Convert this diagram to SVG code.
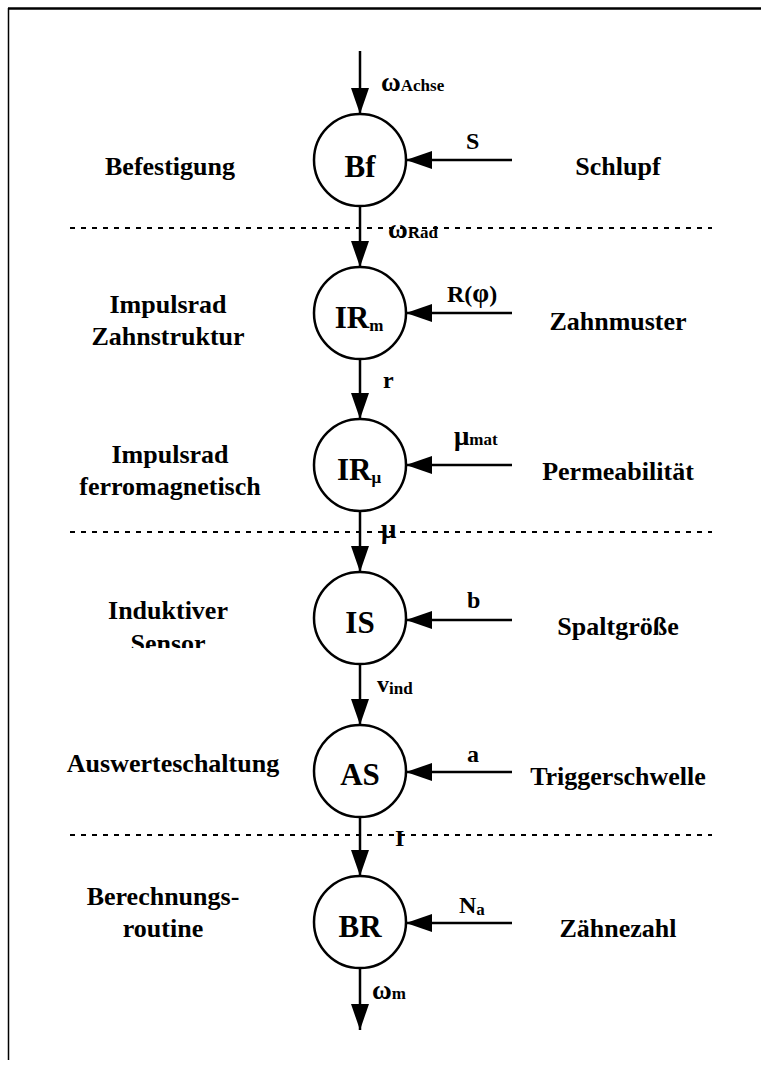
<svg xmlns="http://www.w3.org/2000/svg" width="761" height="1065" viewBox="0 0 761 1065">
  <style>
    text { font-family: 'Liberation Serif', 'DejaVu Serif', serif; font-weight: 700; fill: #000; }
    .side { font-size: 26px; text-anchor: middle; }
    .node { font-size: 31px; text-anchor: middle; }
    .sig { font-size: 24px; }
    .greek { font-size: 27px; }
    .sub { font-size: 17px; }
    .circle { fill: #fff; stroke: #000; stroke-width: 2.5; }
    .conn { stroke: #000; stroke-width: 2.5; fill: none; marker-end: url(#arrow); }
    .sep { stroke: #000; stroke-width: 2; stroke-dasharray: 5 6; }
    .frame { stroke: #000; fill: none; }
  </style>
  <defs>
    <marker id="arrow" markerUnits="userSpaceOnUse" markerWidth="26" markerHeight="18" refX="26" refY="9" orient="auto">
      <path d="M0,0 L26,9 L0,18 Z" fill="#000"/>
    </marker>
    <clipPath id="clipSensor">
      <rect x="0" y="590" width="300" height="58"/>
    </clipPath>
  </defs>

  <rect width="761" height="1065" fill="#fff"/>

  <!-- frame -->
  <line class="frame" x1="8" y1="8.5" x2="761" y2="8.5" stroke-width="2.5"/>
  <line class="frame" x1="8.5" y1="8" x2="8.5" y2="1060" stroke-width="1.5"/>

  <!-- separators -->
  <g id="separators">
    <line class="sep" x1="70" y1="228" x2="712" y2="228"/>
    <line class="sep" x1="70" y1="532" x2="712" y2="532"/>
    <line class="sep" x1="70" y1="835" x2="712" y2="835"/>
  </g>

  <g font-family="Liberation Serif, serif" font-weight="bold">
  <!-- connectors -->
  <g id="connectors">
    <line class="conn" x1="360" y1="51" x2="360" y2="114"/>
    <line class="conn" x1="360" y1="206" x2="360" y2="267"/>
    <line class="conn" x1="360" y1="359" x2="360" y2="419"/>
    <line class="conn" x1="360" y1="511" x2="360" y2="572"/>
    <line class="conn" x1="360" y1="664" x2="360" y2="725"/>
    <line class="conn" x1="360" y1="817" x2="360" y2="876"/>
    <line class="conn" x1="360" y1="968" x2="360" y2="1030"/>

    <line class="conn" x1="512" y1="160" x2="406" y2="160"/>
    <line class="conn" x1="512" y1="313" x2="406" y2="313"/>
    <line class="conn" x1="512" y1="465" x2="406" y2="465"/>
    <line class="conn" x1="512" y1="620" x2="406" y2="620"/>
    <line class="conn" x1="512" y1="772" x2="406" y2="772"/>
    <line class="conn" x1="512" y1="923" x2="406" y2="923"/>

    <!-- signal labels -->
    <text class="sig" x="381" y="91"><tspan class="greek">ω</tspan><tspan class="sub">Achse</tspan></text>
    <text class="sig" x="388" y="238"><tspan class="greek">ω</tspan><tspan class="sub">Rad</tspan></text>
    <text class="sig" x="383" y="388">r</text>
    <text class="sig" x="381" y="538"><tspan class="greek">μ</tspan></text>
    <text class="sig" x="377" y="692">v<tspan class="sub" dy="2">ind</tspan></text>
    <text class="sig" x="395" y="846">I</text>
    <text class="sig" x="372" y="999"><tspan class="greek">ω</tspan><tspan class="sub">m</tspan></text>

    <text class="sig" x="466" y="149">S</text>
    <text class="sig" x="447" y="302">R(<tspan class="greek">φ</tspan>)</text>
    <text class="sig" x="454" y="445"><tspan class="greek">μ</tspan><tspan class="sub">mat</tspan></text>
    <text class="sig" x="467" y="608">b</text>
    <text class="sig" x="467" y="762">a</text>
    <text class="sig" x="459" y="913">N<tspan class="sub" dy="2">a</tspan></text>
  </g>

  <!-- nodes -->
  <g id="node-Bf">
    <circle class="circle" cx="360" cy="160" r="46"/>
    <text class="node" x="360" y="177">Bf</text>
    <text class="side" x="170" y="175">Befestigung</text>
    <text class="side" x="618" y="175">Schlupf</text>
  </g>
  <g id="node-IRm">
    <circle class="circle" cx="360" cy="313" r="46"/>
    <text class="node" x="359" y="328">IR<tspan class="sub" font-size="20" dy="3">m</tspan></text>
    <text class="side" x="168" y="313">Impulsrad</text>
    <text class="side" x="168" y="345">Zahnstruktur</text>
    <text class="side" x="618" y="330">Zahnmuster</text>
  </g>
  <g id="node-IRmu">
    <circle class="circle" cx="360" cy="465" r="46"/>
    <text class="node" x="359" y="480">IR<tspan class="sub" font-size="22" dy="3">μ</tspan></text>
    <text class="side" x="170" y="463">Impulsrad</text>
    <text class="side" x="170" y="495">ferromagnetisch</text>
    <text class="side" x="618" y="480">Permeabilität</text>
  </g>
  <g id="node-IS">
    <circle class="circle" cx="360" cy="618" r="46"/>
    <text class="node" x="360" y="633">IS</text>
    <g clip-path="url(#clipSensor)">
      <text class="side" x="168" y="619">Induktiver</text>
      <text class="side" x="168" y="652">Sensor</text>
    </g>
    <text class="side" x="618" y="635">Spaltgröße</text>
  </g>
  <g id="node-AS">
    <circle class="circle" cx="360" cy="771" r="46"/>
    <text class="node" x="360" y="785">AS</text>
    <text class="side" x="173" y="772">Auswerteschaltung</text>
    <text class="side" x="618" y="785">Triggerschwelle</text>
  </g>
  <g id="node-BR">
    <circle class="circle" cx="360" cy="922" r="46"/>
    <text class="node" x="360" y="937">BR</text>
    <text class="side" x="163" y="905">Berechnungs-</text>
    <text class="side" x="163" y="937">routine</text>
    <text class="side" x="618" y="937">Zähnezahl</text>
  </g>
  </g>
</svg>
